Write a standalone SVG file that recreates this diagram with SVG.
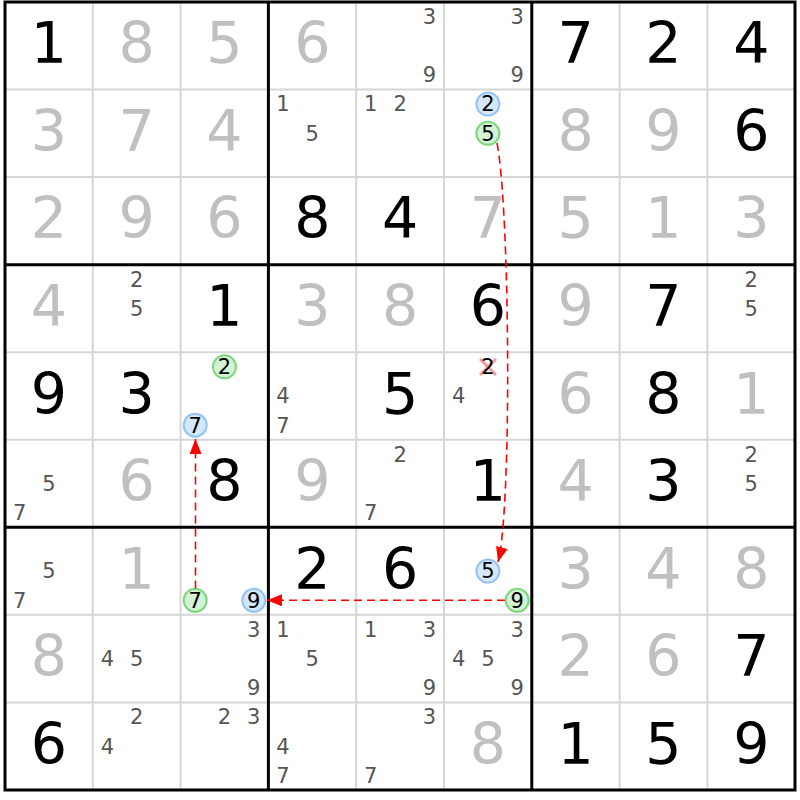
<svg xmlns="http://www.w3.org/2000/svg" width="800" height="800" viewBox="0 0 800 800">
<style>
.bk{font-family:"DejaVu Sans",Verdana,sans-serif;font-size:57px;fill:#000;text-anchor:middle}
.gy{font-family:"DejaVu Sans",Verdana,sans-serif;font-size:57px;fill:#c0c0c0;text-anchor:middle}
.cd{font-family:"DejaVu Sans",Verdana,sans-serif;font-size:21px;fill:#555;text-anchor:middle}
.ck{font-family:"DejaVu Sans",Verdana,sans-serif;font-size:21px;fill:#000;text-anchor:middle}
.cb{fill:#d4e7fb;stroke:#94c4f4;stroke-width:2}
.cg{fill:#d4f3d4;stroke:#7fd67f;stroke-width:2}
.thin{stroke:#d6d6d6;stroke-width:2}
.thick{stroke:#000;stroke-width:3}
.link{fill:none;stroke:#f00;stroke-width:1.6;stroke-dasharray:8 5}
</style>
<defs>
<marker id="arr" viewBox="0 0 15 12" markerWidth="15" markerHeight="12" markerUnits="userSpaceOnUse" refX="15" refY="6" orient="auto">
<path d="M0,0 L15,6 L0,12 Z" fill="#f00"/>
</marker>
</defs>
<rect x="0" y="0" width="800" height="800" fill="#fff"/>
<g id="grid">
<line class="thin" x1="92.8" y1="2" x2="92.8" y2="790"/>
<line class="thin" x1="180.6" y1="2" x2="180.6" y2="790"/>
<line class="thin" x1="356.2" y1="2" x2="356.2" y2="790"/>
<line class="thin" x1="444" y1="2" x2="444" y2="790"/>
<line class="thin" x1="619.6" y1="2" x2="619.6" y2="790"/>
<line class="thin" x1="707.4" y1="2" x2="707.4" y2="790"/>
<line class="thin" x1="5" y1="89.55" x2="795" y2="89.55"/>
<line class="thin" x1="5" y1="177.1" x2="795" y2="177.1"/>
<line class="thin" x1="5" y1="352.2" x2="795" y2="352.2"/>
<line class="thin" x1="5" y1="439.75" x2="795" y2="439.75"/>
<line class="thin" x1="5" y1="614.85" x2="795" y2="614.85"/>
<line class="thin" x1="5" y1="702.4" x2="795" y2="702.4"/>
<line class="thick" x1="268.4" y1="2" x2="268.4" y2="790"/>
<line class="thick" x1="531.8" y1="2" x2="531.8" y2="790"/>
<line class="thick" x1="5" y1="264.65" x2="795" y2="264.65"/>
<line class="thick" x1="5" y1="527.3" x2="795" y2="527.3"/>
<rect x="5" y="2" width="790" height="788" fill="none" stroke="#000" stroke-width="3"/>
</g>
<g id="r1c1"><text class="bk" x="48.9" y="63.3">1</text></g>
<g id="r1c2"><text class="gy" x="136.7" y="63.3">8</text></g>
<g id="r1c3"><text class="gy" x="224.5" y="63.3">5</text></g>
<g id="r1c4"><text class="gy" x="312.3" y="63.3">6</text></g>
<g id="r1c5"><text class="cd" x="429.4" y="23.9">3</text><text class="cd" x="429.4" y="82.3">9</text></g>
<g id="r1c6"><text class="cd" x="517.2" y="23.9">3</text><text class="cd" x="517.2" y="82.3">9</text></g>
<g id="r1c7"><text class="bk" x="575.7" y="63.3">7</text></g>
<g id="r1c8"><text class="bk" x="663.5" y="63.3">2</text></g>
<g id="r1c9"><text class="bk" x="751.3" y="63.3">4</text></g>
<g id="r2c1"><text class="gy" x="48.9" y="150.8">3</text></g>
<g id="r2c2"><text class="gy" x="136.7" y="150.8">7</text></g>
<g id="r2c3"><text class="gy" x="224.5" y="150.8">4</text></g>
<g id="r2c4"><text class="cd" x="283" y="111.4">1</text><text class="cd" x="312.3" y="140.6">5</text></g>
<g id="r2c5"><text class="cd" x="370.8" y="111.4">1</text><text class="cd" x="400.1" y="111.4">2</text></g>
<g id="r2c6"><circle class="cb" cx="487.9" cy="104.1" r="11.5"/><text class="ck" x="487.9" y="111.4">2</text><circle class="cg" cx="487.9" cy="133.3" r="11.5"/><text class="ck" x="487.9" y="140.6">5</text></g>
<g id="r2c7"><text class="gy" x="575.7" y="150.8">8</text></g>
<g id="r2c8"><text class="gy" x="663.5" y="150.8">9</text></g>
<g id="r2c9"><text class="bk" x="751.3" y="150.8">6</text></g>
<g id="r3c1"><text class="gy" x="48.9" y="238.4">2</text></g>
<g id="r3c2"><text class="gy" x="136.7" y="238.4">9</text></g>
<g id="r3c3"><text class="gy" x="224.5" y="238.4">6</text></g>
<g id="r3c4"><text class="bk" x="312.3" y="238.4">8</text></g>
<g id="r3c5"><text class="bk" x="400.1" y="238.4">4</text></g>
<g id="r3c6"><text class="gy" x="487.9" y="238.4">7</text></g>
<g id="r3c7"><text class="gy" x="575.7" y="238.4">5</text></g>
<g id="r3c8"><text class="gy" x="663.5" y="238.4">1</text></g>
<g id="r3c9"><text class="gy" x="751.3" y="238.4">3</text></g>
<g id="r4c1"><text class="gy" x="48.9" y="325.9">4</text></g>
<g id="r4c2"><text class="cd" x="136.7" y="286.5">2</text><text class="cd" x="136.7" y="315.7">5</text></g>
<g id="r4c3"><text class="bk" x="224.5" y="325.9">1</text></g>
<g id="r4c4"><text class="gy" x="312.3" y="325.9">3</text></g>
<g id="r4c5"><text class="gy" x="400.1" y="325.9">8</text></g>
<g id="r4c6"><text class="bk" x="487.9" y="325.9">6</text></g>
<g id="r4c7"><text class="gy" x="575.7" y="325.9">9</text></g>
<g id="r4c8"><text class="bk" x="663.5" y="325.9">7</text></g>
<g id="r4c9"><text class="cd" x="751.3" y="286.5">2</text><text class="cd" x="751.3" y="315.7">5</text></g>
<g id="r5c1"><text class="bk" x="48.9" y="413.5">9</text></g>
<g id="r5c2"><text class="bk" x="136.7" y="413.5">3</text></g>
<g id="r5c3"><circle class="cg" cx="224.5" cy="366.8" r="11.5"/><text class="ck" x="224.5" y="374.1">2</text><circle class="cb" cx="195.2" cy="425.2" r="11.5"/><text class="ck" x="195.2" y="432.5">7</text></g>
<g id="r5c4"><text class="cd" x="283" y="403.3">4</text><text class="cd" x="283" y="432.5">7</text></g>
<g id="r5c5"><text class="bk" x="400.1" y="413.5">5</text></g>
<g id="r5c6"><g stroke="#ef7a7a" stroke-width="3" stroke-opacity="0.75"><line x1="480" y1="359" x2="496" y2="375"/><line x1="480" y1="375" x2="496" y2="359"/></g><text class="ck" x="487.9" y="374.1">2</text><text class="cd" x="458.6" y="403.3">4</text></g>
<g id="r5c7"><text class="gy" x="575.7" y="413.5">6</text></g>
<g id="r5c8"><text class="bk" x="663.5" y="413.5">8</text></g>
<g id="r5c9"><text class="gy" x="751.3" y="413.5">1</text></g>
<g id="r6c1"><text class="cd" x="48.9" y="490.8">5</text><text class="cd" x="19.6" y="520">7</text></g>
<g id="r6c2"><text class="gy" x="136.7" y="501">6</text></g>
<g id="r6c3"><text class="bk" x="224.5" y="501">8</text></g>
<g id="r6c4"><text class="gy" x="312.3" y="501">9</text></g>
<g id="r6c5"><text class="cd" x="400.1" y="461.6">2</text><text class="cd" x="370.8" y="520">7</text></g>
<g id="r6c6"><text class="bk" x="487.9" y="501">1</text></g>
<g id="r6c7"><text class="gy" x="575.7" y="501">4</text></g>
<g id="r6c8"><text class="bk" x="663.5" y="501">3</text></g>
<g id="r6c9"><text class="cd" x="751.3" y="461.6">2</text><text class="cd" x="751.3" y="490.8">5</text></g>
<g id="r7c1"><text class="cd" x="48.9" y="578.4">5</text><text class="cd" x="19.6" y="607.6">7</text></g>
<g id="r7c2"><text class="gy" x="136.7" y="588.6">1</text></g>
<g id="r7c3"><circle class="cg" cx="195.2" cy="600.3" r="11.5"/><text class="ck" x="195.2" y="607.6">7</text><circle class="cb" cx="253.8" cy="600.3" r="11.5"/><text class="ck" x="253.8" y="607.6">9</text></g>
<g id="r7c4"><text class="bk" x="312.3" y="588.6">2</text></g>
<g id="r7c5"><text class="bk" x="400.1" y="588.6">6</text></g>
<g id="r7c6"><circle class="cb" cx="487.9" cy="571.1" r="11.5"/><text class="ck" x="487.9" y="578.4">5</text><circle class="cg" cx="517.2" cy="600.3" r="11.5"/><text class="ck" x="517.2" y="607.6">9</text></g>
<g id="r7c7"><text class="gy" x="575.7" y="588.6">3</text></g>
<g id="r7c8"><text class="gy" x="663.5" y="588.6">4</text></g>
<g id="r7c9"><text class="gy" x="751.3" y="588.6">8</text></g>
<g id="r8c1"><text class="gy" x="48.9" y="676.1">8</text></g>
<g id="r8c2"><text class="cd" x="107.4" y="665.9">4</text><text class="cd" x="136.7" y="665.9">5</text></g>
<g id="r8c3"><text class="cd" x="253.8" y="636.7">3</text><text class="cd" x="253.8" y="695.1">9</text></g>
<g id="r8c4"><text class="cd" x="283" y="636.7">1</text><text class="cd" x="312.3" y="665.9">5</text></g>
<g id="r8c5"><text class="cd" x="370.8" y="636.7">1</text><text class="cd" x="429.4" y="636.7">3</text><text class="cd" x="429.4" y="695.1">9</text></g>
<g id="r8c6"><text class="cd" x="517.2" y="636.7">3</text><text class="cd" x="458.6" y="665.9">4</text><text class="cd" x="487.9" y="665.9">5</text><text class="cd" x="517.2" y="695.1">9</text></g>
<g id="r8c7"><text class="gy" x="575.7" y="676.1">2</text></g>
<g id="r8c8"><text class="gy" x="663.5" y="676.1">6</text></g>
<g id="r8c9"><text class="bk" x="751.3" y="676.1">7</text></g>
<g id="r9c1"><text class="bk" x="48.9" y="763.7">6</text></g>
<g id="r9c2"><text class="cd" x="136.7" y="724.3">2</text><text class="cd" x="107.4" y="753.5">4</text></g>
<g id="r9c3"><text class="cd" x="224.5" y="724.3">2</text><text class="cd" x="253.8" y="724.3">3</text></g>
<g id="r9c4"><text class="cd" x="283" y="753.5">4</text><text class="cd" x="283" y="782.7">7</text></g>
<g id="r9c5"><text class="cd" x="429.4" y="724.3">3</text><text class="cd" x="370.8" y="782.7">7</text></g>
<g id="r9c6"><text class="gy" x="487.9" y="763.7">8</text></g>
<g id="r9c7"><text class="bk" x="575.7" y="763.7">1</text></g>
<g id="r9c8"><text class="bk" x="663.5" y="763.7">5</text></g>
<g id="r9c9"><text class="bk" x="751.3" y="763.7">9</text></g>
<g id="connectors">
<path class="link" d="M497,143 C510,210 512,510 498,562" marker-end="url(#arr)"/>
<path class="link" d="M505,600.3 L267,600.3" marker-end="url(#arr)"/>
<path class="link" d="M195.5,588.5 L195.5,439" marker-end="url(#arr)"/>
</g>
</svg>
